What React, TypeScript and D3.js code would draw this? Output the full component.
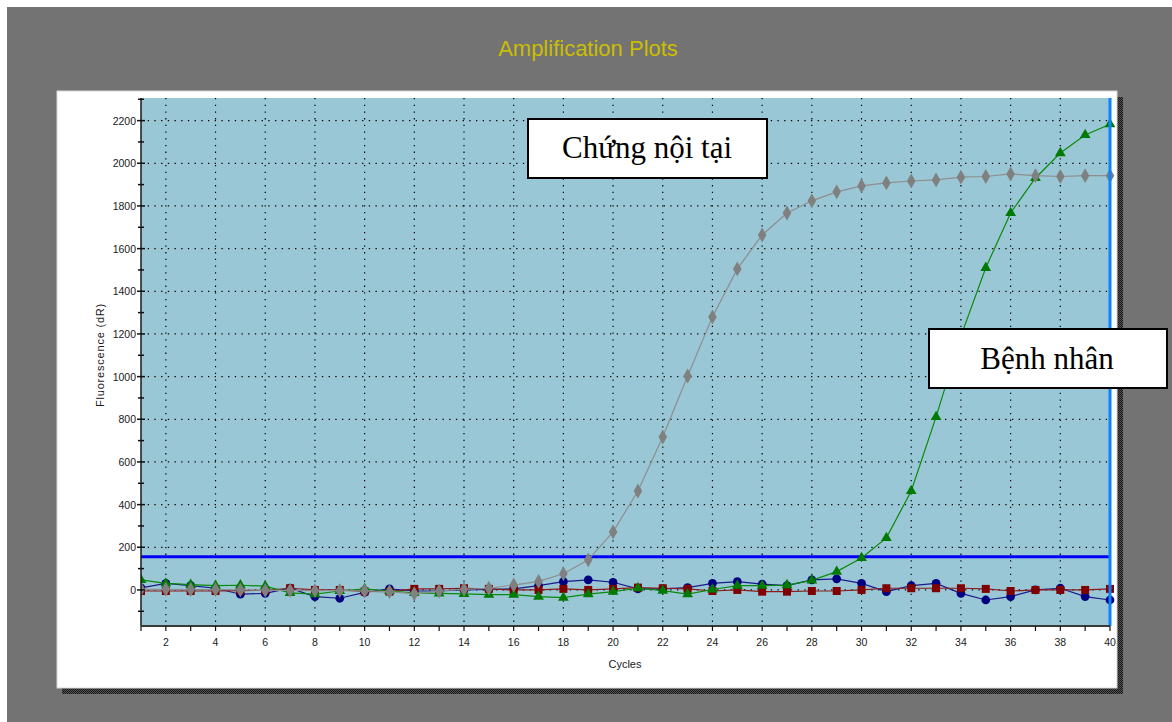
import React from "react";
import * as d3 from "d3";

const cycles = [1,2,3,4,5,6,7,8,9,10,11,12,13,14,15,16,17,18,19,20,21,22,23,24,25,26,27,28,29,30,31,32,33,34,35,36,37,38,39,40];

const internalControl = [3,3,2,2,0,-2,-2,-3,-3,-5,-8,-18,-5,3,8,23,40,76,141,272,464,717,1003,1280,1505,1664,1767,1824,1866,1894,1908,1917,1922,1935,1938,1950,1942,1938,1942,1942];
const patient = [47,31,25,20,22,18,-14,-20,-5,5,-5,-14,-16,-18,-22,-22,-31,-36,-20,-8,8,-3,-20,2,20,20,23,45,86,150,244,464,811,1190,1510,1767,1931,2048,2133,2183];
const negBlue = [10,31,20,8,-20,-16,8,-31,-39,-11,5,-5,-5,0,2,5,20,39,47,36,5,5,11,31,39,27,20,47,52,31,-8,20,31,-16,-47,-31,0,8,-31,-47];
const negRed = [-5,-5,-5,-5,-3,-2,8,0,0,-7,-8,5,5,8,5,0,0,5,0,5,11,8,5,-5,0,-8,-8,-5,-5,0,8,8,8,8,5,-5,0,0,0,5];

const threshold = 156;
const yMajorTicks = [0,200,400,600,800,1000,1200,1400,1600,1800,2000,2200];
const yMinorTicks = [-100,100,300,500,700,900,1100,1300,1500,1700,1900,2100,2300];
const xLabelTicks = [2,4,6,8,10,12,14,16,18,20,22,24,26,28,30,32,34,36,38,40];

const W = 1172, H = 722;
const plot = { left: 141, right: 1110, top: 98, bottom: 626 };

export default function App() {
  const x = d3.scaleLinear().domain([1, 40]).range([plot.left, plot.right]);
  const y = d3.scaleLinear().domain([-169, 2306]).range([plot.bottom, plot.top]);

  const mk = (vals: number[]) =>
    d3.line<number>().x((_, i) => x(cycles[i])).y((v) => y(v))(vals) || "";

  const series = [
    { vals: negBlue, color: "#000080", line: "#1a1a8c", shape: d3.symbolCircle, size: 60 },
    { vals: negRed, color: "#800000", line: "#8c1a1a", shape: d3.symbolSquare, size: 64 },
    { vals: patient, color: "#007a00", line: "#0a8a0a", shape: d3.symbolTriangle, size: 50 },
    { vals: internalControl, color: "#808080", line: "#8e8e8e", shape: d3.symbolDiamond, size: 64 },
  ];

  const font = "'Liberation Sans', Arial, sans-serif";
  const serif = "'Liberation Serif', 'Times New Roman', serif";

  return (
    <div style={{ position: "fixed", left: 0, top: 0 }}>
      <svg width={W} height={H} style={{ display: "block" }}>
        <defs>
          <pattern id="dither" width="2" height="2" patternUnits="userSpaceOnUse">
            <rect width="2" height="2" fill="#555" />
            <rect width="1" height="1" fill="#151515" />
            <rect x="1" y="1" width="1" height="1" fill="#151515" />
          </pattern>
          <clipPath id="plotclip">
            <rect x={plot.left} y={plot.top} width={plot.right - plot.left + 6} height={plot.bottom - plot.top} />
          </clipPath>
        </defs>
        <rect x={0} y={0} width={W} height={H} fill="#fff" />
        <rect x={7} y={7} width={W - 7} height={H - 7} fill="#737373" />
        <text x={588} y={56} textAnchor="middle" fontFamily={font} fontSize={22} fill="#CBBE00">
          Amplification Plots
        </text>

        {/* card shadow */}
        <rect x={1117} y={97} width={6} height={597} fill="url(#dither)" />
        <rect x={62} y={688} width={1061} height={6} fill="url(#dither)" />
        {/* card */}
        <rect x={57} y={91} width={1060} height={597} fill="#fff" stroke="#d8d8d8" strokeWidth={1} />

        {/* plot background */}
        <rect x={plot.left} y={plot.top} width={plot.right - plot.left} height={plot.bottom - plot.top} fill="#9AC7D6" />

        {/* grid */}
        {yMajorTicks.map((t) => (
          <line key={"gy" + t} x1={plot.left} x2={plot.right} y1={y(t)} y2={y(t)} stroke="#000" strokeWidth={1.2} strokeDasharray="1.3 5.4" />
        ))}
        {xLabelTicks.filter((t) => t < 40).map((t) => (
          <line key={"gx" + t} x1={x(t)} x2={x(t)} y1={plot.top} y2={plot.bottom} stroke="#000" strokeWidth={1.2} strokeDasharray="1.3 5.4" />
        ))}

        {/* threshold */}
        <line x1={plot.left} x2={plot.right} y1={y(threshold)} y2={y(threshold)} stroke="#0000F5" strokeWidth={3} />

        {/* series */}
        <g clipPath="url(#plotclip)">
          {series.map((s, si) => (
            <g key={"s" + si}>
              <path d={mk(s.vals)} fill="none" stroke={s.line} strokeWidth={1.2} />
              {s.vals.map((v, i) => (
                <path
                  key={i}
                  d={d3.symbol().type(s.shape).size(s.size)() || ""}
                  transform={`translate(${x(cycles[i])},${y(v)})`}
                  fill={s.color}
                />
              ))}
            </g>
          ))}
        </g>

        {/* right marker line */}
        <line x1={plot.right} x2={plot.right} y1={plot.top} y2={plot.bottom} stroke="#0A84FF" strokeWidth={3} />

        {/* axes */}
        <line x1={plot.left} x2={plot.left} y1={plot.top} y2={plot.bottom} stroke="#1a1a1a" strokeWidth={1.5} />
        <line x1={plot.left} x2={plot.right} y1={plot.bottom} y2={plot.bottom} stroke="#3a3a3a" strokeWidth={2} />
        {yMajorTicks.map((t) => (
          <g key={"yt" + t}>
            <line x1={plot.left - 4} x2={plot.left + 4} y1={y(t)} y2={y(t)} stroke="#111" strokeWidth={1.5} />
            <text x={plot.left - 5} y={y(t) + 4} textAnchor="end" fontFamily={font} fontSize={10.5} fill="#1a1a1a">
              {t}
            </text>
          </g>
        ))}
        {yMinorTicks.map((t) => (
          <line key={"ym" + t} x1={plot.left - 3} x2={plot.left + 3} y1={y(t)} y2={y(t)} stroke="#111" strokeWidth={1.5} />
        ))}
        {cycles.map((c) => (
          <line key={"xt" + c} x1={x(c)} x2={x(c)} y1={plot.bottom} y2={plot.bottom + 5} stroke="#111" strokeWidth={1.2} />
        ))}
        {xLabelTicks.map((t) => (
          <text key={"xl" + t} x={x(t)} y={646} textAnchor="middle" fontFamily={font} fontSize={10.5} fill="#1a1a1a">
            {t}
          </text>
        ))}
        <text x={625} y={668} textAnchor="middle" fontFamily={font} fontSize={11} fill="#1a1a1a">
          Cycles
        </text>
        <text
          transform={`translate(104,355) rotate(-90)`}
          textAnchor="middle"
          fontFamily={font}
          fontSize={11}
          letterSpacing={0.8}
          fill="#1a1a1a"
        >
          Fluorescence (dR)
        </text>

        {/* annotation boxes */}
        <rect x={528} y={119} width={239} height={59} fill="#fff" stroke="#000" strokeWidth={2} />
        <text x={647} y={158} textAnchor="middle" fontFamily={serif} fontSize={31} fill="#000">
          Chứng nội tại
        </text>
        <rect x={929} y={329} width={238} height={59} fill="#fff" stroke="#000" strokeWidth={2} />
        <text x={1047} y={369} textAnchor="middle" fontFamily={serif} fontSize={31} fill="#000">
          Bệnh nhân
        </text>
      </svg>
    </div>
  );
}
